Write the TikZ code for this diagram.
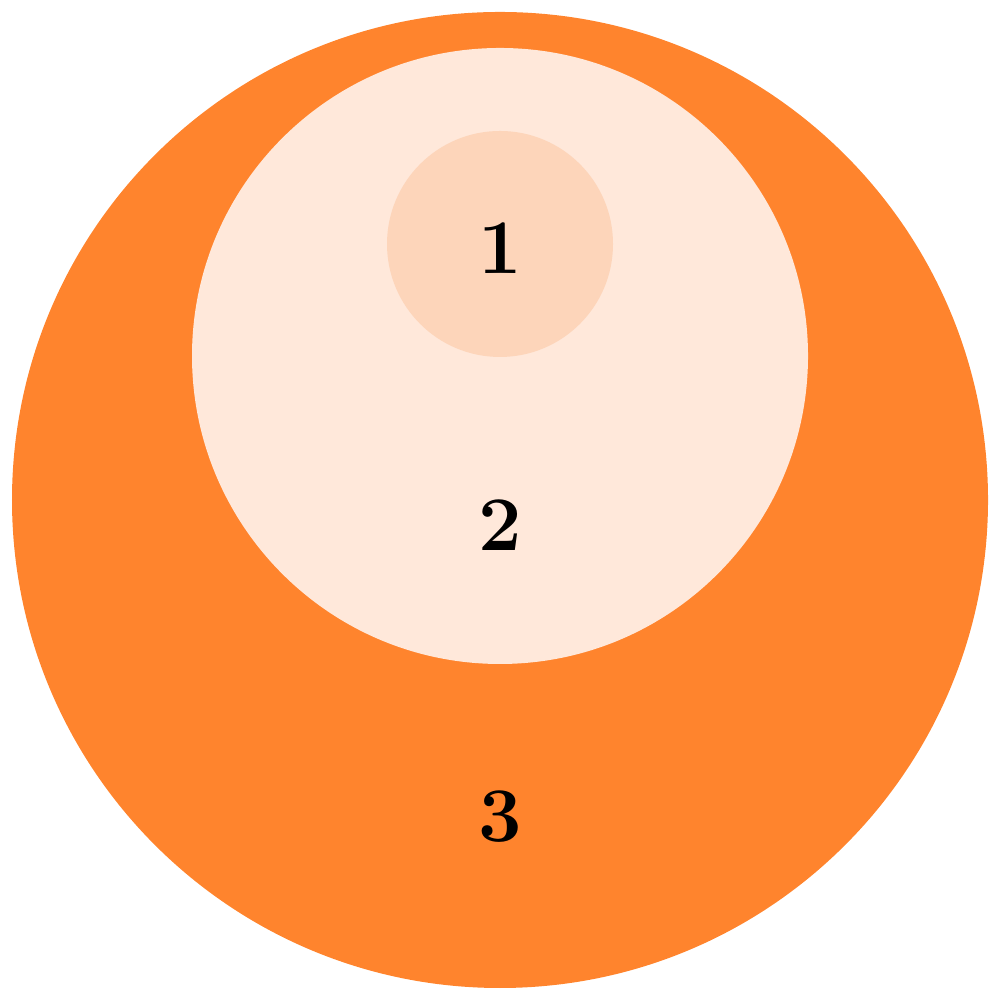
\documentclass[tikz,border=0pt]{standalone}
\usepackage{tikz}
\definecolor{outerorange}{HTML}{FF842D}
\definecolor{midpeach}{HTML}{FFE8DA}
\definecolor{innerpeach}{HTML}{FDD5BA}
\tikzset{num/.style={font=\fontsize{22}{26}\selectfont\bfseries, text=black, inner sep=0pt}}

\begin{document}
\begin{tikzpicture}
			%%%%% START %%%%%
			\useasboundingbox (0, 0) rectangle (10, 10);
			
			\fill[outerorange] (5, 5) circle (4.88);
			\fill[midpeach] (5, 6.44) circle (3.08);
			\fill[innerpeach] (5, 7.56) circle (1.13);
			
			\node[num] (one) at (5, 7.52) {1};
			\node[num] (two) at (5, 4.75) {2};
			\node[num] (three) at (5, 1.83) {3};
			%%%%% END %%%%%
		\end{tikzpicture}
\end{document}
